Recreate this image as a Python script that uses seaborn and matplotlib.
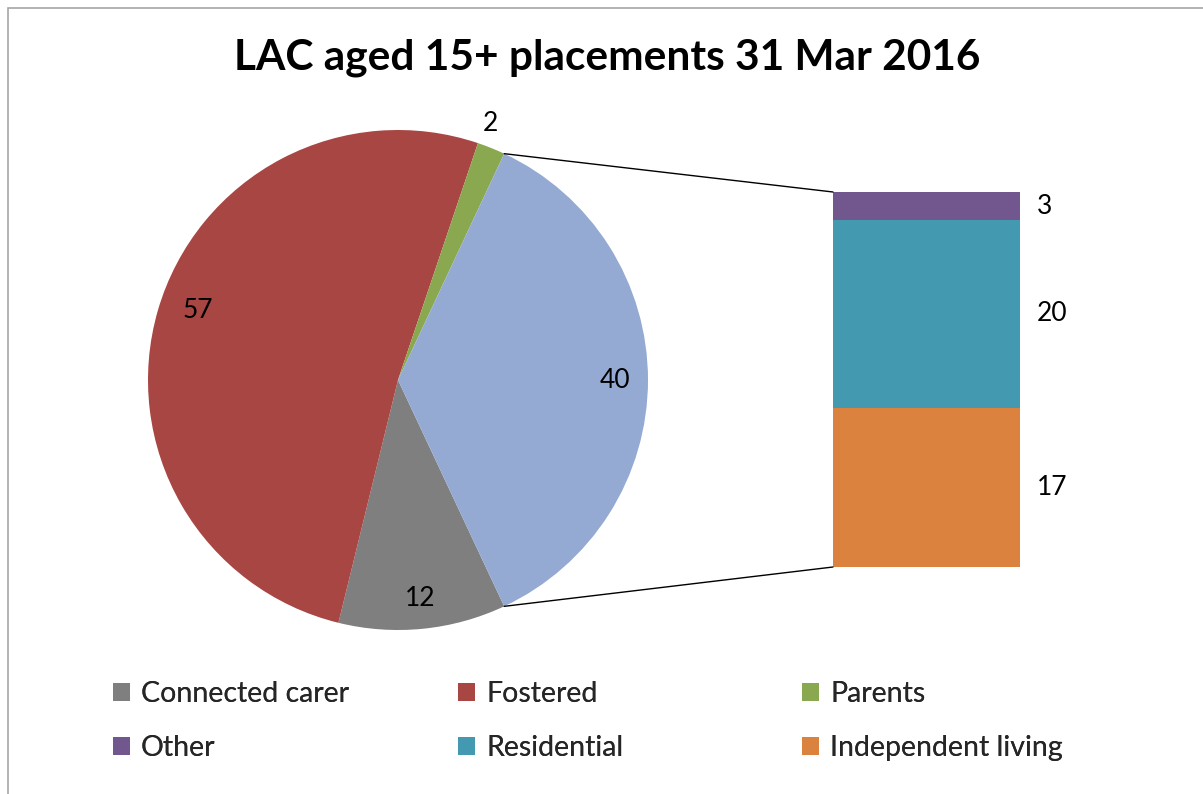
import numpy as np
import matplotlib
matplotlib.use("Agg")
import matplotlib.pyplot as plt
import seaborn as sns
import pandas as pd
from matplotlib.patches import ConnectionPatch, Rectangle, Patch

# ── Data ────────────────────────────────────────────────
pie_labels = ["Connected carer", "Fostered", "Parents", "Other placements"]
pie_values = [12, 57, 2, 40]
bar_labels = ["Independent living", "Residential", "Other"]
bar_values = [17, 20, 3]
TITLE = "LAC aged 15+ placements 31 Mar 2016"

PIE_CLR = ["#7f7f7f", "#a84643", "#8aa84f", "#94aad3"]
BAR_CLR = ["#db833e", "#4299b0", "#72578f"]

sns.set_theme(style="white")
plt.rcParams["font.family"] = ["Lato", "DejaVu Sans"]

fig = plt.figure(figsize=(12.03, 7.94), dpi=100)
W, H = 1203, 794

# outer chart border
fig.patches.append(Rectangle((8 / W, -0.05), 1.2, 1 - 8 / H + 0.05, transform=fig.transFigure,
                             fill=False, edgecolor="#a6a6a6", linewidth=1.2))

fig.text(607 / W, 1 - 58 / H, TITLE, ha="center", va="center",
         fontsize=30.5, fontweight="bold", color="#000000")

# ── Pie ────────────────────────────────────────────────
ax = fig.add_axes([148 / W, 1 - 630 / H, 500 / W, 500 / H])
total = sum(pie_values)
# centre the "other" wedge on the right (clockwise drawing)
start = 360 * (sum(pie_values[:-1]) + pie_values[-1] / 2) / total
wedges, _ = ax.pie(pie_values, colors=PIE_CLR, startangle=start, counterclock=False,
                   radius=1, wedgeprops={"linewidth": 0})
ax.set_xlim(-1, 1); ax.set_ylim(-1, 1); ax.set_aspect("equal"); ax.axis("off")

label_r = [0.88, 0.85, 1.09, 0.87]
label_da = [0, -3, 2, 0]
for w, v, r, da in zip(wedges, pie_values, label_r, label_da):
    ang = np.deg2rad((w.theta1 + w.theta2) / 2 + da)
    ax.text(r * np.cos(ang), r * np.sin(ang), str(v), ha="center", va="center",
            fontsize=19, color="#000000")

# ── Bar of pie ────────────────────────────────────────────────
bx = fig.add_axes([833 / W, 1 - 567 / H, 187 / W, 375 / H])
df = pd.DataFrame({"x": [""] * 3, "label": bar_labels, "value": bar_values})
df["cum"] = df["value"].cumsum()
for i in range(len(df) - 1, -1, -1):
    sns.barplot(data=df.iloc[[i]], x="x", y="cum", color=BAR_CLR[i], width=1,
                saturation=1, ax=bx, linewidth=0)
bx.set_xlim(-0.5, 0.5); bx.set_ylim(0, df["cum"].iloc[-1]); bx.axis("off")
for _, row in df.iterrows():
    bx.text(0.59, row["cum"] - row["value"] / 2, str(row["value"]), ha="left",
            va="center", fontsize=19, color="#000000")

# connector lines
ow = wedges[-1]
for th, yb in [(ow.theta2, df["cum"].iloc[-1]), (ow.theta1, 0)]:
    a = np.deg2rad(th)
    con = ConnectionPatch(xyA=(np.cos(a), np.sin(a)), coordsA=ax.transData,
                          xyB=(-0.5, yb), coordsB=bx.transData,
                          color="#000000", linewidth=1)
    fig.add_artist(con)

# ── Legend (three columns, placed separately) ──────────────────
legend_cols = [
    ([pie_labels[0], bar_labels[2]], [PIE_CLR[0], BAR_CLR[2]], 113),
    ([pie_labels[1], bar_labels[1]], [PIE_CLR[1], BAR_CLR[1]], 458),
    ([pie_labels[2], bar_labels[0]], [PIE_CLR[2], BAR_CLR[0]], 802),
]
for names, cols, x0 in legend_cols:
    lg = fig.legend([Patch(facecolor=c, edgecolor="none") for c in cols], names,
                    loc="center left", bbox_to_anchor=(x0 / W, 1 - 721 / H), frameon=False,
                    fontsize=20.5, handlelength=0.58, handleheight=0.58, handletextpad=0.4,
                    labelspacing=1.0, borderpad=0, borderaxespad=0)
    fig.add_artist(lg)

fig.savefig("out.png", dpi=100)
